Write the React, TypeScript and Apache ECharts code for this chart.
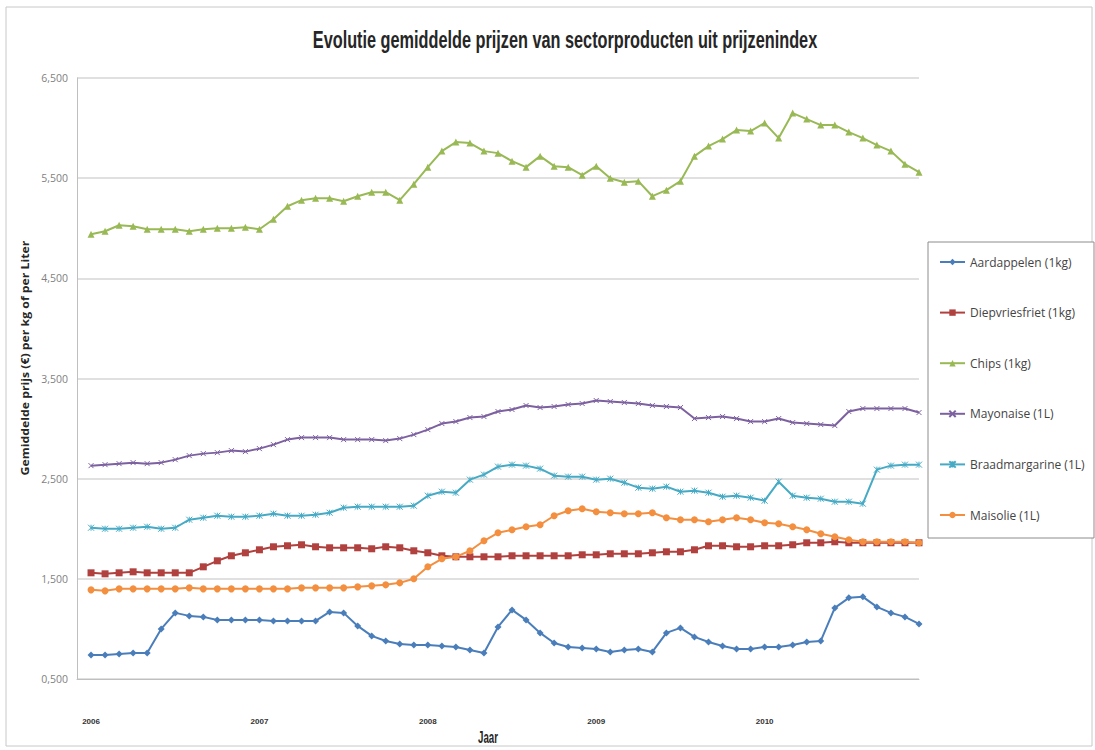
import React, { useEffect, useRef } from "react";
import * as echarts from "echarts";

const years = ["2006", "2007", "2008", "2009", "2010"];
const monthsPerYear = 12;

const chartTitle = "Evolutie gemiddelde prijzen van sectorproducten uit prijzenindex";
const xAxisTitle = "Jaar";
const yAxisTitle = "Gemiddelde prijs (€) per kg of per Liter";

const seriesNames = [
  "Aardappelen (1kg)",
  "Diepvriesfriet (1kg)",
  "Chips (1kg)",
  "Mayonaise (1L)",
  "Braadmargarine (1L)",
  "Maisolie (1L)",
];

const aardappelen = [
  0.74, 0.74, 0.75, 0.76, 0.76, 1.0, 1.16, 1.13, 1.12, 1.09, 1.09, 1.09,
  1.09, 1.08, 1.08, 1.08, 1.08, 1.17, 1.16, 1.03, 0.93, 0.88, 0.85, 0.84,
  0.84, 0.83, 0.82, 0.79, 0.76, 1.02, 1.19, 1.09, 0.96, 0.86, 0.82, 0.81,
  0.8, 0.77, 0.79, 0.8, 0.77, 0.96, 1.01, 0.92, 0.87, 0.83, 0.8, 0.8,
  0.82, 0.82, 0.84, 0.87, 0.88, 1.21, 1.31, 1.32, 1.22, 1.16, 1.12, 1.05,
];

const diepvriesfriet = [
  1.56, 1.55, 1.56, 1.57, 1.56, 1.56, 1.56, 1.56, 1.62, 1.68, 1.73, 1.76,
  1.79, 1.82, 1.83, 1.84, 1.82, 1.81, 1.81, 1.81, 1.8, 1.82, 1.81, 1.78,
  1.76, 1.73, 1.72, 1.72, 1.72, 1.72, 1.73, 1.73, 1.73, 1.73, 1.73, 1.74,
  1.74, 1.75, 1.75, 1.75, 1.76, 1.77, 1.77, 1.79, 1.83, 1.83, 1.82, 1.82,
  1.83, 1.83, 1.84, 1.86, 1.86, 1.87, 1.86, 1.86, 1.86, 1.86, 1.86, 1.86,
];

const chips = [
  4.94, 4.97, 5.03, 5.02, 4.99, 4.99, 4.99, 4.97, 4.99, 5.0, 5.0, 5.01,
  4.99, 5.09, 5.22, 5.28, 5.3, 5.3, 5.27, 5.32, 5.36, 5.36, 5.28, 5.44,
  5.61, 5.77, 5.86, 5.85, 5.77, 5.75, 5.67, 5.61, 5.72, 5.62, 5.61, 5.53,
  5.62, 5.5, 5.46, 5.47, 5.32, 5.38, 5.47, 5.72, 5.82, 5.89, 5.98, 5.97,
  6.05, 5.9, 6.15, 6.09, 6.03, 6.03, 5.96, 5.9, 5.83, 5.77, 5.64, 5.56,
];

const mayonaise = [
  2.63, 2.64, 2.65, 2.66, 2.65, 2.66, 2.69, 2.73, 2.75, 2.76, 2.78, 2.77,
  2.8, 2.84, 2.89, 2.91, 2.91, 2.91, 2.89, 2.89, 2.89, 2.88, 2.9, 2.94,
  2.99, 3.05, 3.07, 3.11, 3.12, 3.17, 3.19, 3.23, 3.21, 3.22, 3.24, 3.25,
  3.28, 3.27, 3.26, 3.25, 3.23, 3.22, 3.21, 3.1, 3.11, 3.12, 3.1, 3.07,
  3.07, 3.1, 3.06, 3.05, 3.04, 3.03, 3.17, 3.2, 3.2, 3.2, 3.2, 3.16,
];

const braadmargarine = [
  2.01, 2.0, 2.0, 2.01, 2.02, 2.0, 2.01, 2.09, 2.11, 2.13, 2.12, 2.12,
  2.13, 2.15, 2.13, 2.13, 2.14, 2.16, 2.21, 2.22, 2.22, 2.22, 2.22, 2.23,
  2.33, 2.37, 2.36, 2.49, 2.54, 2.62, 2.64, 2.63, 2.6, 2.53, 2.52, 2.52,
  2.49, 2.5, 2.46, 2.41, 2.4, 2.42, 2.37, 2.38, 2.36, 2.32, 2.33, 2.31,
  2.28, 2.47, 2.33, 2.31, 2.3, 2.27, 2.27, 2.25, 2.59, 2.63, 2.64, 2.64,
];

const maisolie = [
  1.39, 1.38, 1.4, 1.4, 1.4, 1.4, 1.4, 1.41, 1.4, 1.4, 1.4, 1.4,
  1.4, 1.4, 1.4, 1.41, 1.41, 1.41, 1.41, 1.42, 1.43, 1.44, 1.46, 1.5,
  1.62, 1.7, 1.72, 1.78, 1.88, 1.96, 1.99, 2.02, 2.04, 2.13, 2.18, 2.2,
  2.17, 2.16, 2.15, 2.15, 2.16, 2.11, 2.09, 2.09, 2.07, 2.09, 2.11, 2.09,
  2.06, 2.05, 2.02, 1.99, 1.95, 1.92, 1.89, 1.87, 1.87, 1.87, 1.87, 1.86,
];

const seriesValues = [aardappelen, diepvriesfriet, chips, mayonaise, braadmargarine, maisolie];
const seriesColors = ["#4A7EBB", "#B0413E", "#98B954", "#7D60A0", "#46AAC5", "#F38F3F"];
const seriesSymbols = [
  "diamond",
  "rect",
  "triangle",
  "path://M0,0L10,10M0,10L10,0",
  "path://M0,0L10,10M0,10L10,0M5,0L5,10",
  "circle",
];
const seriesSymbolSizes = [7, 7, 7, 5, 6, 7];

const SANS = '"Liberation Sans", Arial, sans-serif';

function measureText(text: string, font: string): number {
  const canvas = document.createElement("canvas");
  const ctx = canvas.getContext("2d");
  if (!ctx) return text.length * 10;
  ctx.font = font;
  return ctx.measureText(text).width || text.length * 10;
}

export default function App() {
  const ref = useRef<HTMLDivElement>(null);

  useEffect(() => {
    if (!ref.current) return;
    const chart = echarts.init(ref.current, null, { renderer: "svg" });
    const lastIndex = years.length * monthsPerYear - 1;

    const titleSize = 23;
    const titleW = measureText(chartTitle, `bold ${titleSize}px "Liberation Sans"`);
    const titleScale = 505 / titleW;

    const jaarSize = 17;
    const jaarW = measureText(xAxisTitle, `bold ${jaarSize}px "Liberation Sans"`);
    const jaarScale = 20 / jaarW;

    const yNameSize = 10;
    const yNameW = measureText(yAxisTitle, `bold ${yNameSize}px "Open Sans"`);
    const yNameScale = 235 / yNameW;

    const series = seriesNames.map((name, k) => {
      const isPath = seriesSymbols[k].startsWith("path://");
      return {
        name,
        type: "line",
        data: seriesValues[k].map((v, i) => [i, v]),
        symbol: seriesSymbols[k],
        symbolSize: seriesSymbolSizes[k],
        showSymbol: true,
        lineStyle: { color: seriesColors[k], width: 2 },
        itemStyle: isPath
          ? { color: seriesColors[k], borderColor: seriesColors[k], borderWidth: 1 }
          : { color: seriesColors[k] },
        emphasis: { disabled: true },
        z: 3 + k,
      };
    });

    chart.setOption({
      animation: false,
      backgroundColor: "#ffffff",
      legend: {
        orient: "vertical",
        left: 934,
        top: 251,
        itemWidth: 25,
        itemHeight: 8,
        itemGap: 38.6,
        data: seriesNames,
        textStyle: { fontFamily: "Open Sans", fontSize: 12, color: "#444", lineHeight: 12 },
      },
      grid: { left: 77, right: 176, top: 78, bottom: 71, containLabel: false },
      xAxis: {
        type: "value",
        min: -1,
        max: lastIndex,
        axisLine: { show: true, onZero: false, lineStyle: { color: "#BFBFBF", width: 1 } },
        axisTick: { show: false },
        splitLine: { show: false },
        axisLabel: {
          customValues: years.map((_, j) => j * monthsPerYear),
          formatter: (v: number) => years[Math.round(v / monthsPerYear)] ?? "",
          margin: 38,
          fontFamily: SANS,
          fontSize: 8,
          fontWeight: "bold",
          color: "#333",
        },
      },
      yAxis: {
        type: "value",
        min: 0.5,
        max: 6.5,
        interval: 1,
        axisLine: { show: true, onZero: false, lineStyle: { color: "#BFBFBF", width: 1 } },
        axisTick: { show: false },
        splitLine: { show: true, lineStyle: { color: "#D6D6D6", width: 1.5 } },
        axisLabel: {
          formatter: (v: number) => v.toFixed(3).replace(".", ","),
          margin: 9,
          fontFamily: "Open Sans",
          fontSize: 10.5,
          color: "#7F7F7F",
        },
      },
      graphic: [
        {
          type: "rect",
          shape: { x: 6, y: 7, width: 1086, height: 739 },
          style: { fill: "none", stroke: "#C8C8C8", lineWidth: 1 },
          silent: true,
          z: -10,
        },
        {
          type: "rect",
          shape: { x: 928, y: 242, width: 166, height: 296 },
          style: { fill: "#ffffff", stroke: "#8C8C8C", lineWidth: 1 },
          silent: true,
          z: -5,
        },
        {
          type: "text",
          x: 565,
          y: 40,
          scaleX: titleScale,
          style: {
            text: chartTitle,
            fontFamily: "Liberation Sans",
            fontSize: titleSize,
            fontWeight: "bold",
            fill: "#262626",
            align: "center",
            verticalAlign: "middle",
          },
        },
        {
          type: "text",
          x: 488,
          y: 737,
          scaleX: jaarScale,
          style: {
            text: xAxisTitle,
            fontFamily: "Liberation Sans",
            fontSize: jaarSize,
            fontWeight: "bold",
            fill: "#262626",
            align: "center",
            verticalAlign: "middle",
          },
        },
        {
          type: "text",
          x: 25,
          y: 358,
          rotation: Math.PI / 2,
          scaleX: yNameScale,
          style: {
            text: yAxisTitle,
            fontFamily: "Open Sans",
            fontSize: yNameSize,
            fontWeight: "bold",
            fill: "#262626",
            align: "center",
            verticalAlign: "middle",
          },
        },
      ],
      series,
    });

    return () => chart.dispose();
  }, []);

  return (
    <div
      ref={ref}
      style={{ position: "absolute", left: 0, top: 0, width: 1095, height: 750 }}
    />
  );
}
